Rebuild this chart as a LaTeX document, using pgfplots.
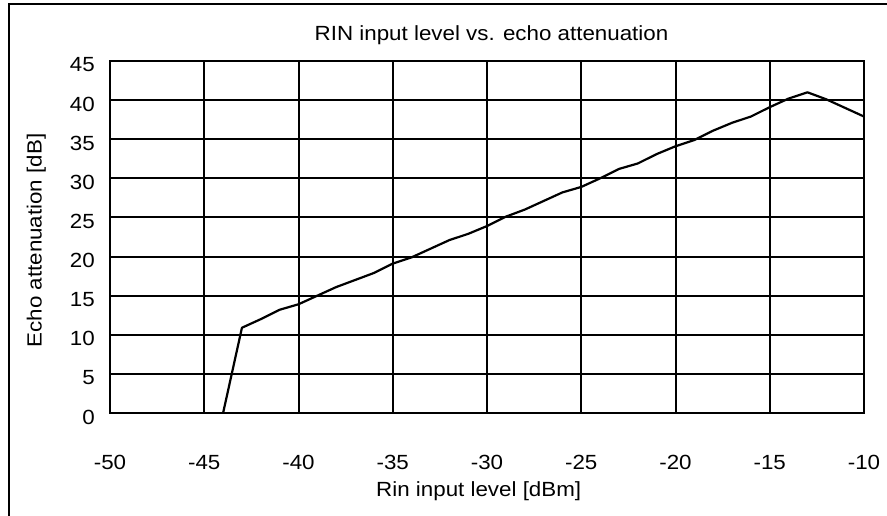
\documentclass[border=0pt]{standalone}
\usepackage{fontspec}
\setmainfont[FakeStretch=1.09]{Liberation Sans}
\usepackage{pgfplots}
\pgfplotsset{compat=1.18}
\newcommand{\chartfont}{\fontsize{20.5bp}{24bp}\selectfont}
\begin{document}
\begin{tikzpicture}
\begin{axis}[
  scale only axis, width=754bp, height=352bp,
  xmin=-50, xmax=-10, ymin=0, ymax=45,
  xtick={-50,-45,...,-10}, ytick={0,5,...,45},
  xticklabels={-50,-45,-40,-35,-30,-25,-20,-15,-10},
  yticklabels={0,5,10,15,20,25,30,35,40,45},
  grid=major, major grid style={black, line width=2bp},
  axis line style={line width=2.8bp},
  major tick length=0pt,
  every tick label/.append style={font=\chartfont},
  xticklabel style={anchor=base, inner sep=0pt, yshift=-56bp},
  yticklabel style={anchor=east, inner sep=0pt, xshift=-15bp, yshift=-4bp},
  title={RIN input level vs. echo attenuation},
  title style={font=\chartfont, at={(axis description cs:0.506,1.0406)}, anchor=base, inner sep=0pt},
  xlabel={Rin input level [dBm]},
  xlabel style={font=\chartfont, at={(axis description cs:0.489,-0.2358)}, anchor=base, inner sep=0pt},
  ylabel={Echo attenuation [dB]},
  ylabel style={font=\chartfont, at={(axis description cs:-0.0906,0.49)}, anchor=base, inner sep=0pt},
]
\addplot[black, line width=2.2bp, line join=round, mark=none] coordinates {
(-44,0) (-43,10.9) (-42,12) (-41,13.2) (-40,13.9) (-39,15) (-38,16.1)
(-37,17) (-36,17.9) (-35,19.1) (-34,19.9) (-33,21) (-32,22.1) (-31,22.9)
(-30,23.9) (-29,25.1) (-28,26) (-27,27.1) (-26,28.2) (-25,28.9) (-24,30)
(-23,31.2) (-22,31.9) (-21,33.1) (-20,34.1) (-19,34.9) (-18,36.1) (-17,37.1)
(-16,37.9) (-15,39.1) (-14,40.2) (-13,41) (-12,40.1) (-11,39) (-10,37.9)
};
\coordinate (SW) at (rel axis cs:0,0);
\end{axis}
\pgfresetboundingbox
\path[use as bounding box] ([shift={(-110bp,-103bp)}]SW) rectangle ([shift={(777bp,413bp)}]SW);
\draw[line width=2bp] ([shift={(-100.7bp,-130bp)}]SW) -- ([shift={(-100.7bp,409bp)}]SW) -- ([shift={(800bp,409bp)}]SW);
\end{tikzpicture}
\end{document}
